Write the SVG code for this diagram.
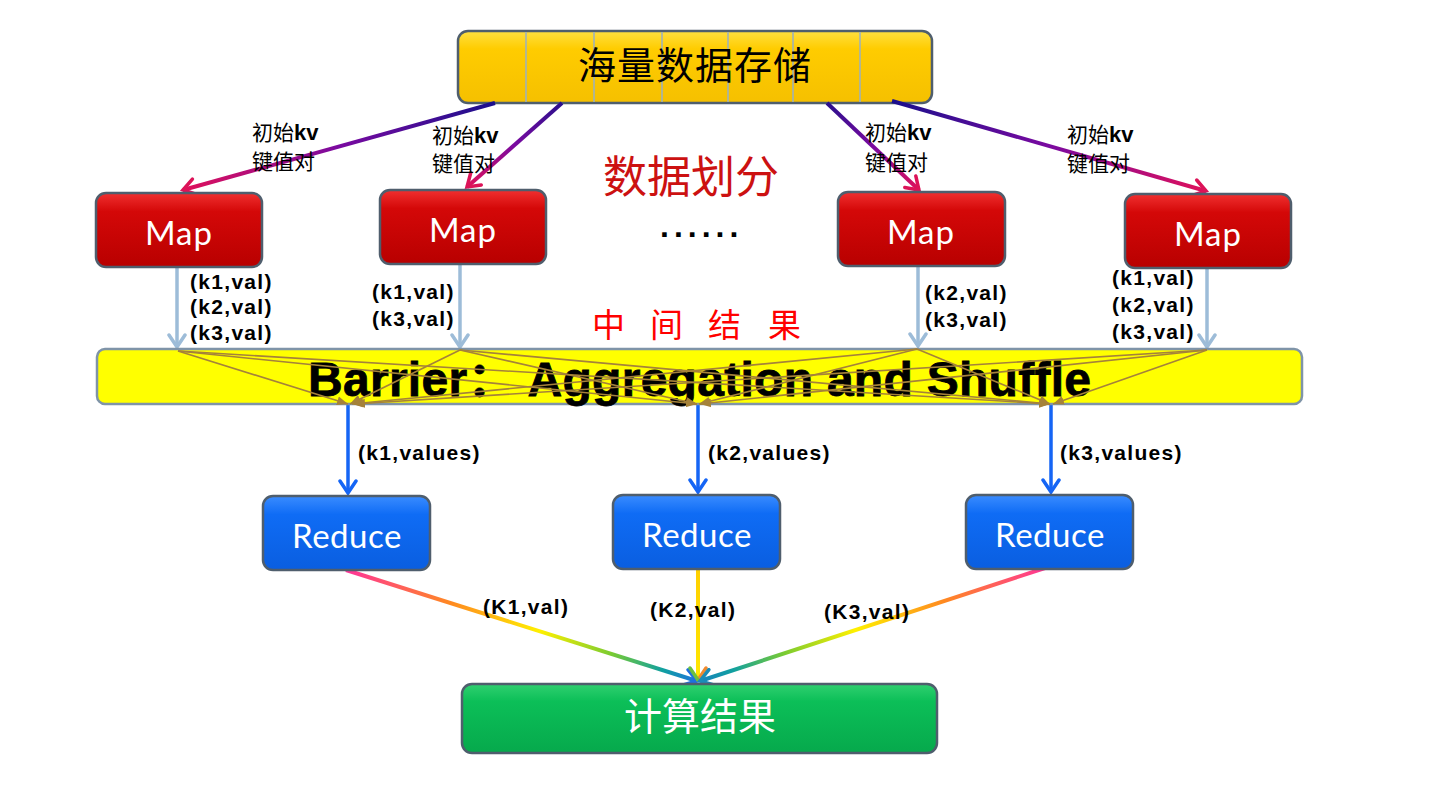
<svg xmlns="http://www.w3.org/2000/svg" width="1443" height="798" viewBox="0 0 1443 798">
<style>
.cjk{font-family:"Noto Sans CJK SC","Noto Sans",sans-serif}
.lbl{font-family:"Liberation Sans",Arial,sans-serif;font-weight:bold;font-size:21px;letter-spacing:1.3px;fill:#000}
.kv{font-family:"Noto Sans CJK SC",sans-serif;font-size:21px;fill:#000}
.kvb{font-family:"Liberation Sans",Arial,sans-serif;font-weight:bold;font-size:22px}
.node-t{font-family:Lato,"Open Sans",sans-serif;font-size:33px;fill:#fff;text-anchor:middle}
.box{stroke:#4f5e6d;stroke-width:2.5}
.top{fill:none;stroke-width:4}
.mapln{stroke:#9dbcd8;stroke-width:3.5;fill:none}
.shuf{stroke:#a5823a;stroke-width:1.6;fill:none}
.blue{stroke:#1565f5;stroke-width:3.5;fill:none}
.bot{fill:none;stroke-width:4}
</style>
<defs>
<linearGradient id="gRed" x1="0" y1="0" x2="0" y2="1"><stop offset="0" stop-color="#f03030"/><stop offset="0.25" stop-color="#d40808"/><stop offset="1" stop-color="#b80000"/></linearGradient>
<linearGradient id="gBlue" x1="0" y1="0" x2="0" y2="1"><stop offset="0" stop-color="#3a8cff"/><stop offset="0.25" stop-color="#0f6cf5"/><stop offset="1" stop-color="#0a5ee0"/></linearGradient>
<linearGradient id="gGreen" x1="0" y1="0" x2="0" y2="1"><stop offset="0" stop-color="#30d070"/><stop offset="0.25" stop-color="#0cbf58"/><stop offset="1" stop-color="#06a94c"/></linearGradient>
<linearGradient id="gGold" x1="0" y1="0" x2="0" y2="1"><stop offset="0" stop-color="#ffe040"/><stop offset="0.25" stop-color="#ffcc00"/><stop offset="1" stop-color="#f5c000"/></linearGradient>
<linearGradient id="t1" gradientUnits="userSpaceOnUse" x1="495" y1="103" x2="183" y2="190"><stop offset="0" stop-color="#1a0f8c"/><stop offset="0.5" stop-color="#7a0aa0"/><stop offset="1" stop-color="#e0105a"/></linearGradient>
<linearGradient id="t2" gradientUnits="userSpaceOnUse" x1="562" y1="103" x2="467" y2="187"><stop offset="0" stop-color="#2a0f8c"/><stop offset="0.5" stop-color="#7a0aa0"/><stop offset="1" stop-color="#e0105a"/></linearGradient>
<linearGradient id="t3" gradientUnits="userSpaceOnUse" x1="827" y1="103" x2="919" y2="190"><stop offset="0" stop-color="#2a0f8c"/><stop offset="0.5" stop-color="#7a0aa0"/><stop offset="1" stop-color="#e0105a"/></linearGradient>
<linearGradient id="t4" gradientUnits="userSpaceOnUse" x1="892" y1="101" x2="1206" y2="191"><stop offset="0" stop-color="#1a0f8c"/><stop offset="0.5" stop-color="#7a0aa0"/><stop offset="1" stop-color="#e0105a"/></linearGradient>
<linearGradient id="b1" gradientUnits="userSpaceOnUse" x1="346" y1="570" x2="698" y2="682"><stop offset="0" stop-color="#ff3399"/><stop offset="0.3" stop-color="#ff8a20"/><stop offset="0.55" stop-color="#fff000"/><stop offset="0.75" stop-color="#7ccc30"/><stop offset="0.9" stop-color="#10a0a0"/><stop offset="1" stop-color="#1e70e0"/></linearGradient>
<linearGradient id="b3" gradientUnits="userSpaceOnUse" x1="1048" y1="567" x2="698" y2="682"><stop offset="0" stop-color="#ff3399"/><stop offset="0.3" stop-color="#ff8a20"/><stop offset="0.55" stop-color="#fff000"/><stop offset="0.75" stop-color="#7ccc30"/><stop offset="0.9" stop-color="#10a0a0"/><stop offset="1" stop-color="#1a80c0"/></linearGradient>
<linearGradient id="b2" gradientUnits="userSpaceOnUse" x1="698" y1="570" x2="698" y2="682"><stop offset="0" stop-color="#ffd000"/><stop offset="1" stop-color="#ffe800"/></linearGradient>
<marker id="mTop" viewBox="0 0 20 20" refX="17" refY="10" markerWidth="20" markerHeight="20" orient="auto" markerUnits="userSpaceOnUse"><path d="M5,2 L17,10 L5,18" fill="none" stroke="#dc1358" stroke-width="3.5" stroke-linecap="round"/></marker>
<marker id="mMap" viewBox="0 0 20 20" refX="17" refY="10" markerWidth="20" markerHeight="20" orient="auto" markerUnits="userSpaceOnUse"><path d="M5,2 L17,10 L5,18" fill="none" stroke="#9dbcd8" stroke-width="3.5" stroke-linecap="round"/></marker>
<marker id="mBlue" viewBox="0 0 20 20" refX="17" refY="10" markerWidth="20" markerHeight="20" orient="auto" markerUnits="userSpaceOnUse"><path d="M5,2 L17,10 L5,18" fill="none" stroke="#1565f5" stroke-width="3.5" stroke-linecap="round"/></marker>
<marker id="mShuf" viewBox="0 0 12 12" refX="11" refY="6" markerWidth="12" markerHeight="12" orient="auto" markerUnits="userSpaceOnUse"><path d="M0,1.5 L11,6 L0,10.5 Z" fill="#a5823a"/></marker>
<marker id="mB1" viewBox="0 0 20 20" refX="17" refY="10" markerWidth="20" markerHeight="20" orient="auto" markerUnits="userSpaceOnUse"><path d="M5,2 L17,10 L5,18" fill="none" stroke="#1e70e0" stroke-width="3.5" stroke-linecap="round"/></marker>
<marker id="mB3" viewBox="0 0 20 20" refX="17" refY="10" markerWidth="20" markerHeight="20" orient="auto" markerUnits="userSpaceOnUse"><path d="M5,2 L17,10 L5,18" fill="none" stroke="#1a8cb8" stroke-width="3.5" stroke-linecap="round"/></marker>
<marker id="mB2" viewBox="0 0 20 20" refX="17" refY="10" markerWidth="20" markerHeight="20" orient="auto" markerUnits="userSpaceOnUse"><path d="M5,2 L17,10" fill="none" stroke="#f08a30" stroke-width="3.5" stroke-linecap="round"/><path d="M5,18 L17,10" fill="none" stroke="#6cc040" stroke-width="3.5" stroke-linecap="round"/></marker>
</defs>
<rect width="1443" height="798" fill="#fff"/>

<g id="storage">
<rect x="458" y="31" width="474" height="72" rx="10" fill="url(#gGold)" class="box"/>
<g stroke="#9ab0c0" stroke-width="1.5">
<line x1="526" y1="32" x2="526" y2="102"/><line x1="594" y1="32" x2="594" y2="102"/><line x1="662" y1="32" x2="662" y2="102"/><line x1="728" y1="32" x2="728" y2="102"/><line x1="793" y1="32" x2="793" y2="102"/><line x1="860" y1="32" x2="860" y2="102"/>
</g>
<text x="695" y="79" class="cjk" font-size="38" text-anchor="middle" fill="#000" letter-spacing="1">海量数据存储</text>
</g>

<g id="connectors">
<line x1="495" y1="103" x2="183" y2="190" class="top" stroke="url(#t1)" marker-end="url(#mTop)"/>
<line x1="562" y1="103" x2="467" y2="187" class="top" stroke="url(#t2)" marker-end="url(#mTop)"/>
<line x1="827" y1="103" x2="919" y2="190" class="top" stroke="url(#t3)" marker-end="url(#mTop)"/>
<line x1="892" y1="101" x2="1206" y2="191" class="top" stroke="url(#t4)" marker-end="url(#mTop)"/>
<line x1="177" y1="268" x2="177" y2="347" class="mapln" marker-end="url(#mMap)"/>
<line x1="460" y1="265" x2="460" y2="347" class="mapln" marker-end="url(#mMap)"/>
<line x1="918" y1="267" x2="918" y2="346" class="mapln" marker-end="url(#mMap)"/>
<line x1="1207" y1="268" x2="1207" y2="347" class="mapln" marker-end="url(#mMap)"/>
<line x1="348" y1="405" x2="348" y2="493" class="blue" marker-end="url(#mBlue)"/>
<line x1="698" y1="405" x2="698" y2="492" class="blue" marker-end="url(#mBlue)"/>
<line x1="1051" y1="405" x2="1051" y2="492" class="blue" marker-end="url(#mBlue)"/>
<line x1="346" y1="570" x2="697" y2="681" class="bot" stroke="url(#b1)" marker-end="url(#mB1)"/>
<line x1="698" y1="570" x2="698" y2="680" class="bot" stroke="url(#b2)" marker-end="url(#mB2)"/>
<line x1="1048" y1="567" x2="700" y2="681" class="bot" stroke="url(#b3)" marker-end="url(#mB3)"/>
</g>

<g id="barrier">
<rect x="97" y="349" width="1205" height="55" rx="8" fill="#ffff00" stroke="#7f94a8" stroke-width="2.5"/>
<text x="308" y="396" font-family="'Liberation Sans',Arial,'Noto Sans CJK SC',sans-serif" font-weight="bold" font-size="48" fill="#000" stroke="#000" stroke-width="0.8" textLength="783" lengthAdjust="spacing">Barrier： Aggregation and Shuffle</text>
</g>

<g id="shuffle">
<line x1="178" y1="351" x2="348" y2="404" class="shuf" marker-end="url(#mShuf)"/>
<line x1="178" y1="351" x2="697" y2="404" class="shuf" marker-end="url(#mShuf)"/>
<line x1="178" y1="351" x2="1050" y2="404" class="shuf" marker-end="url(#mShuf)"/>
<line x1="460" y1="350" x2="350" y2="404" class="shuf" marker-end="url(#mShuf)"/>
<line x1="460" y1="350" x2="697" y2="404" class="shuf" marker-end="url(#mShuf)"/>
<line x1="460" y1="350" x2="1050" y2="404" class="shuf" marker-end="url(#mShuf)"/>
<line x1="917" y1="349" x2="352" y2="404" class="shuf" marker-end="url(#mShuf)"/>
<line x1="917" y1="349" x2="699" y2="404" class="shuf" marker-end="url(#mShuf)"/>
<line x1="917" y1="349" x2="1050" y2="404" class="shuf" marker-end="url(#mShuf)"/>
<line x1="1207" y1="350" x2="354" y2="404" class="shuf" marker-end="url(#mShuf)"/>
<line x1="1207" y1="350" x2="700" y2="404" class="shuf" marker-end="url(#mShuf)"/>
<line x1="1207" y1="350" x2="1053" y2="404" class="shuf" marker-end="url(#mShuf)"/>
</g>

<g id="map1"><rect x="96" y="193" width="166" height="74" rx="10" fill="url(#gRed)" class="box"/><text x="179" y="245" class="node-t" letter-spacing="1">Map</text></g>
<g id="map2"><rect x="380" y="190" width="166" height="74" rx="10" fill="url(#gRed)" class="box"/><text x="463" y="242" class="node-t" letter-spacing="1">Map</text></g>
<g id="map3"><rect x="838" y="192" width="167" height="74" rx="10" fill="url(#gRed)" class="box"/><text x="921" y="244" class="node-t" letter-spacing="1">Map</text></g>
<g id="map4"><rect x="1125" y="194" width="166" height="74" rx="10" fill="url(#gRed)" class="box"/><text x="1208" y="246" class="node-t" letter-spacing="1">Map</text></g>

<g id="reduce1"><rect x="263" y="496" width="167" height="74" rx="10" fill="url(#gBlue)" class="box"/><text x="347" y="548" class="node-t" letter-spacing="0.5">Reduce</text></g>
<g id="reduce2"><rect x="613" y="495" width="167" height="74" rx="10" fill="url(#gBlue)" class="box"/><text x="697" y="547" class="node-t" letter-spacing="0.5">Reduce</text></g>
<g id="reduce3"><rect x="966" y="495" width="167" height="74" rx="10" fill="url(#gBlue)" class="box"/><text x="1050" y="547" class="node-t" letter-spacing="0.5">Reduce</text></g>

<g id="result"><rect x="462" y="684" width="475" height="69" rx="10" fill="url(#gGreen)" class="box"/><text x="700" y="730" class="cjk" font-size="38" fill="#fff" text-anchor="middle">计算结果</text></g>

<g id="labels">
<text class="kv" x="252" y="140">初始<tspan class="kvb">kv</tspan></text>
<text class="kv" x="252" y="169">键值对</text>
<text class="kv" x="432" y="143">初始<tspan class="kvb">kv</tspan></text>
<text class="kv" x="432" y="171">键值对</text>
<text class="kv" x="865" y="140">初始<tspan class="kvb">kv</tspan></text>
<text class="kv" x="865" y="170">键值对</text>
<text class="kv" x="1067" y="142">初始<tspan class="kvb">kv</tspan></text>
<text class="kv" x="1067" y="171">键值对</text>

<text class="cjk" x="603" y="193" font-size="44" fill="#cc1111">数据划分</text>
<text x="660" y="237" font-family="'Liberation Sans',sans-serif" font-weight="bold" font-size="32" letter-spacing="5" fill="#000">......</text>
<text class="cjk" x="592 650 708 768" y="337" font-size="33" fill="#ff0000">中间结果</text>

<text class="lbl" x="190" y="289">(k1,val)</text>
<text class="lbl" x="190" y="314">(k2,val)</text>
<text class="lbl" x="190" y="340">(k3,val)</text>
<text class="lbl" x="372" y="299">(k1,val)</text>
<text class="lbl" x="372" y="326">(k3,val)</text>
<text class="lbl" x="925" y="300">(k2,val)</text>
<text class="lbl" x="925" y="327">(k3,val)</text>
<text class="lbl" x="1112" y="285">(k1,val)</text>
<text class="lbl" x="1112" y="312">(k2,val)</text>
<text class="lbl" x="1112" y="339">(k3,val)</text>

<text class="lbl" x="358" y="460">(k1,values)</text>
<text class="lbl" x="708" y="460">(k2,values)</text>
<text class="lbl" x="1060" y="460">(k3,values)</text>

<text class="lbl" x="483" y="614">(K1,val)</text>
<text class="lbl" x="650" y="617">(K2,val)</text>
<text class="lbl" x="824" y="619">(K3,val)</text>
</g>
</svg>
